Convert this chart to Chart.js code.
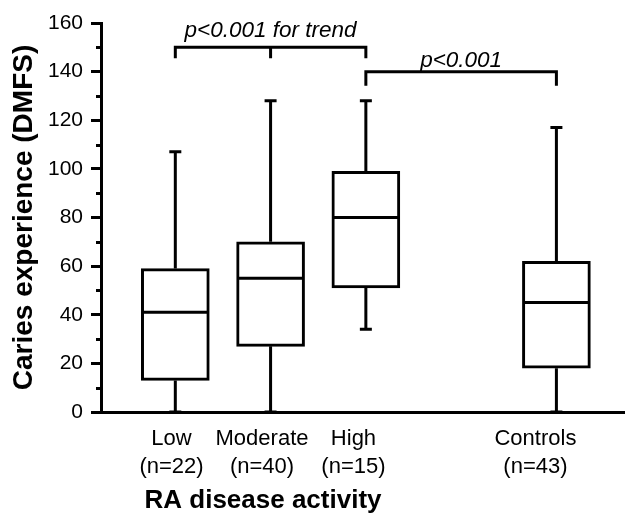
<!DOCTYPE html>
<html>
<head>
<meta charset="utf-8">
<script src="https://cdn.jsdelivr.net/npm/chart.js@4.4.1/dist/chart.umd.min.js"></script>
<style>
  html, body { margin: 0; padding: 0; background: #fff; }
  canvas { display: block; }
</style>
</head>
<body>
<canvas id="boxChart" width="625" height="514"></canvas>
<script>
// groups and where they sit on the x axis (Controls set apart after a gap)
var groups = ['Low', 'Moderate', 'High', 'Controls'];
var groupN = ['(n=22)', '(n=40)', '(n=15)', '(n=43)'];
var groupX = [1, 2, 3, 5];

// box plot statistics (DMFS)
var whiskerLow = [0, 0, 34, 0];
var q1 = [13, 27, 51, 18];
var median = [41, 55, 80, 45];
var q3 = [59, 70, 99, 62];
var whiskerHigh = [107, 128, 128, 117];

// significance brackets
var bracketFrom = [1, 3];
var bracketTo = [3, 5];
var bracketMid = [2, null];
var bracketLevel = [150, 140];
var bracketText = ['p<0.001 for trend', 'p<0.001'];

var yMin = 0, yMax = 160, yStep = 20, yMinorStep = 10;

Chart.defaults.font.family = '"Liberation Sans", Arial, sans-serif';
Chart.defaults.color = '#000';

// category labels in the original sit a little left of their boxes
var labelShift = [-0.04, -0.09, -0.13, -0.22];

// whiskers, caps, medians, minor ticks, brackets and the x title
var boxParts = {
  id: 'boxParts',
  afterDatasetsDraw: function(chart) {
    var ctx = chart.ctx, xs = chart.scales.x, ys = chart.scales.y;
    var half = 33, cap = 6;
    ctx.save();
    ctx.strokeStyle = '#000';
    ctx.lineWidth = 3;
    groupX.forEach(function(gx, i) {
      var px = xs.getPixelForValue(gx);
      var yHi = ys.getPixelForValue(whiskerHigh[i]);
      var yLo = ys.getPixelForValue(whiskerLow[i]);
      ctx.beginPath();
      ctx.moveTo(px, ys.getPixelForValue(q3[i]));
      ctx.lineTo(px, yHi);
      ctx.moveTo(px - cap, yHi);
      ctx.lineTo(px + cap, yHi);
      ctx.moveTo(px, ys.getPixelForValue(q1[i]));
      ctx.lineTo(px, yLo);
      ctx.moveTo(px - cap, yLo);
      ctx.lineTo(px + cap, yLo);
      var ym = ys.getPixelForValue(median[i]);
      ctx.moveTo(px - half, ym);
      ctx.lineTo(px + half, ym);
      ctx.stroke();
    });
    ctx.restore();
  },
  afterDraw: function(chart) {
    var ctx = chart.ctx, xs = chart.scales.x, ys = chart.scales.y;
    var left = chart.chartArea.left;
    ctx.save();
    ctx.strokeStyle = '#000';
    ctx.fillStyle = '#000';
    ctx.lineWidth = 3;

    // minor ticks
    ctx.beginPath();
    for (var v = yMin + yMinorStep; v < yMax; v += yStep) {
      var y = Math.round(ys.getPixelForValue(v)) + 0.5;
      ctx.moveTo(left - 5, y);
      ctx.lineTo(left, y);
    }
    ctx.stroke();

    // brackets
    var drops = [11, 14];
    var gaps = [10, 5];
    ctx.font = 'italic 22.5px "Liberation Sans", Arial, sans-serif';
    ctx.textAlign = 'center';
    ctx.textBaseline = 'alphabetic';
    bracketLevel.forEach(function(lv, i) {
      var x1 = xs.getPixelForValue(bracketFrom[i]);
      var x2 = xs.getPixelForValue(bracketTo[i]);
      var yb = ys.getPixelForValue(lv);
      ctx.beginPath();
      ctx.moveTo(x1, yb + drops[i]);
      ctx.lineTo(x1, yb);
      ctx.lineTo(x2, yb);
      ctx.lineTo(x2, yb + drops[i]);
      if (bracketMid[i] !== null) {
        var xm = xs.getPixelForValue(bracketMid[i]);
        ctx.moveTo(xm, yb);
        ctx.lineTo(xm, yb + drops[i]);
      }
      ctx.stroke();
      ctx.fillText(bracketText[i], (x1 + x2) / 2, yb - gaps[i]);
    });

    // x axis title
    ctx.font = 'bold 26px "Liberation Sans", Arial, sans-serif';
    ctx.fillText('RA disease activity', 263, 508);
    ctx.restore();
  }
};

var ctx = document.getElementById('boxChart').getContext('2d');

var boxChart = new Chart(ctx, {
  type: 'bar',
  data: {
    datasets: [{
      label: 'DMFS',
      data: groupX.map(function(x, i) { return { x: x, y: [q1[i], q3[i]] }; }),
      backgroundColor: '#fff',
      borderColor: '#000',
      borderWidth: 3,
      borderSkipped: false,
      barThickness: 68
    }]
  },
  options: {
    responsive: false,
    animation: false,
    layout: { padding: { top: 23, left: 0, right: 0, bottom: 0 } },
    plugins: {
      legend: { display: false },
      tooltip: { enabled: false }
    },
    scales: {
      x: {
        type: 'linear',
        min: 0.22,
        max: 5.72,
        offset: false,
        afterFit: function(scale) { scale.height = 102; },
        afterBuildTicks: function(scale) {
          scale.ticks = groupX.map(function(v, i) { return { value: v + labelShift[i] }; });
        },
        grid: { drawOnChartArea: false, drawTicks: false },
        border: { display: true, color: '#000', width: 3 },
        ticks: {
          autoSkip: false,
          maxRotation: 0,
          minRotation: 0,
          padding: 13,
          font: { size: 22, lineHeight: 1.27 },
          callback: function(value, index) {
            return [groups[index], groupN[index]];
          }
        }
      },
      y: {
        min: yMin,
        max: yMax,
        afterFit: function(scale) { scale.width = 101; },
        grid: {
          drawOnChartArea: false,
          drawTicks: true,
          tickLength: 10,
          tickWidth: 3,
          tickColor: '#000'
        },
        border: { display: true, color: '#000', width: 3 },
        ticks: {
          stepSize: yStep,
          padding: 8,
          font: { size: 21 }
        },
        title: {
          display: true,
          text: 'Caries experience (DMFS)',
          font: { size: 28, weight: 'bold' },
          padding: { top: 7, bottom: 0 }
        }
      }
    }
  },
  plugins: [boxParts]
});
</script>
</body>
</html>
